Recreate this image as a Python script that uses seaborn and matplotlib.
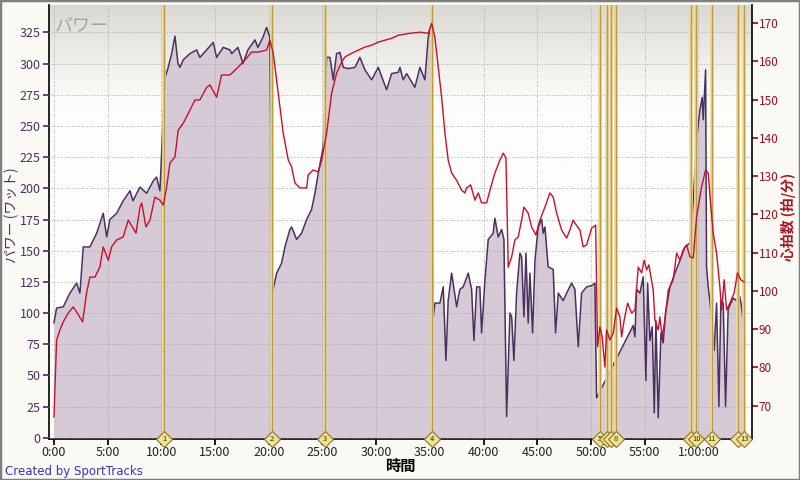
import matplotlib
matplotlib.use("Agg")
import matplotlib.pyplot as plt
import matplotlib.transforms as mtransforms
import numpy as np
import seaborn as sns
from matplotlib.ticker import FuncFormatter

# ─── data ─────────────────────────────────────────────────────────────────────
power_min = [0.00, 0.25, 0.87, 1.49, 2.11, 2.42, 2.73, 3.35, 3.98, 4.59, 4.91, 5.21, 5.84,
             6.45, 7.08, 7.36, 8.01, 8.63, 9.25, 9.56, 9.87, 10.34, 10.61, 10.96, 11.27,
             11.55, 11.73, 12.04, 12.66, 13.29, 13.59, 14.22, 14.83, 15.15, 15.76, 16.39,
             16.55, 17.13, 17.60, 18.06, 18.72, 18.99, 19.46, 19.80, 20.11, 20.33, 20.74,
             21.20, 21.51, 21.97, 22.13, 22.60, 23.06, 23.53, 23.99, 24.30, 24.61, 25.07,
             25.39, 25.70, 26.01, 26.32, 26.63, 26.94, 27.40, 28.03, 28.49, 28.96, 29.58,
             30.20, 30.98, 31.44, 32.06, 32.22, 32.52, 32.84, 33.61, 34.08, 34.54, 34.85,
             35.17, 35.32, 35.47, 35.94, 36.25, 36.50, 36.71, 37.03, 37.50, 37.80, 38.11,
             38.58, 38.89, 39.11, 39.36, 39.66, 39.82, 40.13, 40.44, 40.90, 41.06, 41.37,
             41.69, 41.90, 42.15, 42.46, 42.62, 42.83, 43.08, 43.39, 43.55, 43.76, 43.95,
             44.16, 44.32, 44.57, 44.79, 45.09, 45.41, 45.56, 45.72, 46.02, 46.49, 46.71,
             46.96, 47.42, 47.74, 48.20, 48.51, 48.82, 49.13, 49.60, 50.07, 50.37, 50.53,
             53.94, 54.10, 54.25, 54.56, 54.87, 55.12, 55.28, 55.49, 55.71, 55.90, 56.05,
             56.27, 56.52, 56.73, 56.95, 57.36, 57.82, 58.29, 58.75, 59.22, 59.53, 59.84,
             60.15, 60.36, 60.46, 60.68, 60.77, 60.92, 61.08, 61.48, 61.70, 61.92, 62.10,
             62.32, 62.54, 62.78, 63.25, 63.56, 63.87, 64.03, 64.18, 64.34]
power_w = [92, 104, 105, 116, 124, 116, 153, 153, 164, 180, 161, 175, 180,
           190, 198, 190, 201, 196, 206, 209, 198, 289, 296, 308, 322,
           300, 297, 303, 308, 311, 305, 311, 317, 305, 313, 311,
           308, 313, 300, 311, 319, 313, 321, 329, 321, 116, 132,
           140, 153, 167, 169, 159, 164, 175, 183, 196, 212, 233,
           305, 305, 287, 308, 309, 297, 296, 297, 305, 295, 287,
           297, 279, 292, 293, 297, 287, 292, 281, 297, 287, 321,
           332, 97, 108, 108, 121, 62, 110, 132, 105, 119, 121,
           132, 119, 78, 121, 121, 84, 126, 159, 164, 176, 161,
           167, 159, 17, 100, 97, 62, 116, 148, 145, 97, 148,
           92, 132, 84, 142, 169, 175, 164, 169, 137, 135, 84,
           116, 110, 116, 124, 119, 73, 116, 121, 122, 124, 32,
           90, 81, 119, 116, 129, 46, 124, 78, 89, 20, 94,
           16, 84, 76, 100, 121, 132, 142, 153, 156, 190, 239,
           263, 273, 255, 295, 137, 121, 110, 70, 108, 25, 110,
           108, 25, 103, 112, 110, 113, 105, 94, 73]

hr_min = [0.00, 0.25, 0.56, 0.87, 1.33, 1.80, 2.11, 2.67, 3.04, 3.35, 3.82, 4.28, 4.59,
          5.06, 5.37, 5.84, 6.45, 6.92, 7.64, 8.01, 8.17, 8.57, 8.94, 9.40, 9.87, 10.18,
          10.49, 10.80, 11.27, 11.57, 12.04, 12.66, 13.13, 13.59, 14.22, 14.53, 15.15,
          15.61, 16.39, 17.16, 17.78, 18.41, 19.02, 19.80, 20.11, 20.42, 20.88, 21.35,
          21.82, 22.13, 22.44, 22.91, 23.53, 23.68, 24.14, 24.61, 24.93, 25.39, 25.86,
          26.32, 26.79, 27.09, 27.72, 28.33, 28.96, 29.58, 30.20, 30.82, 31.44, 32.06,
          33.15, 34.08, 34.85, 35.17, 35.47, 35.78, 36.10, 36.41, 36.71, 37.03, 37.50,
          37.96, 38.27, 38.43, 38.80, 39.20, 39.51, 39.82, 40.29, 40.60, 41.06, 41.53,
          41.84, 42.09, 42.30, 42.62, 42.92, 43.23, 43.55, 43.76, 44.16, 44.48, 44.88,
          45.25, 45.72, 46.18, 46.49, 46.81, 47.27, 47.74, 48.04, 48.35, 48.51, 48.98,
          49.28, 49.60, 50.07, 50.44, 50.62, 50.84, 51.05, 51.30, 51.46, 51.77, 52.08,
          52.39, 52.70, 52.86, 53.10, 53.42, 53.79, 54.10, 54.41, 54.72, 54.96, 55.19,
          55.40, 55.80, 55.96, 56.27, 56.42, 56.64, 56.89, 57.20, 57.67, 57.98, 58.29,
          58.59, 58.91, 59.22, 59.53, 59.84, 60.30, 60.68, 60.92, 61.17, 61.39, 61.70,
          62.01, 62.17, 62.41, 62.63, 62.94, 63.34, 63.65, 63.96, 64.27]
hr_bpm = [67, 87.2, 89.8, 91.9, 94.2, 95.8, 94.5, 91.9, 99.5, 103.6, 103.6, 106.3, 111.5,
          108, 111.5, 113.3, 114.1, 118.5, 115.1, 121.9, 123, 116.7, 118.5, 124.5, 123.7, 122.4,
          127.1, 133.4, 135, 142, 143.8, 147.2, 149.9, 149.9, 153.2, 153.8, 150.6,
          156.4, 156.4, 158.5, 160.3, 162.4, 162.4, 162.9, 165.5, 162.1, 151.7, 141.2,
          134.2, 132.4, 128.2, 126.9, 126.9, 130.3, 131.6, 131.1, 134.2, 141.2, 151.7,
          156.9, 159.8, 161.1, 162.1, 162.9, 163.7, 164.2, 165, 165.5, 166, 166.8,
          167.3, 167.6, 167.3, 169.9, 166.3, 158.5, 150.6, 141.2, 134.2, 130.8, 128.9,
          126.3, 125.6, 126.9, 127.7, 123.7, 125.6, 123, 123, 126.3, 130.8, 134.2,
          136, 134.7, 106.2, 108.9, 113.3, 114.1, 118.5, 121.9, 120.3, 116.7, 114.6,
          118.5, 121.9, 125.6, 124.5, 120.3, 115.9, 113.8, 115.9, 118.5, 117.7, 115.9,
          111.5, 112, 116.4, 117.2, 85.4, 90.6, 88, 80.1, 89.8, 87.2, 89,
          95.5, 93.2, 88, 92.4, 96.8, 94.2, 95, 106.2, 104.7, 108, 105.5,
          106.8, 100.2, 92.4, 89.8, 93.2, 88, 92.4, 100.2, 102.9, 109.9, 108,
          110.7, 112, 108.9, 108.6, 119.3, 127.1, 131.6, 130.8, 121.9, 115.1, 109.9,
          101, 95, 102.9, 95, 96.8, 99.5, 104.7, 102.9, 102.3]

lap_min = [10.27, 20.27, 25.23, 35.23, 50.84, 51.52, 51.86, 52.30,
           59.28, 59.81, 61.24, 63.72, 64.27]
lap_labels = ["1", "2", "3", "4", "5", "6", "7", "8", "9", "10", "11", "12", "13"]
# labels hidden under the next diamond in the original
lap_hidden = {"6", "7", "9", "12"}

time_ticks = list(range(0, 61, 5))
power_ticks = list(range(0, 350, 25))
hr_ticks = list(range(70, 180, 10))

# ─── style ────────────────────────────────────────────────────────────────────
sns.set_theme(style="white")
plt.rcParams["font.family"] = ["Liberation Sans Narrow", "Noto Sans CJK JP", "DejaVu Sans"]

PURPLE = "#4b3160"
FILL = "#d5cad5"
RED = "#c8102e"
GOLD = "#c09a3e"
BG = "#faf9f4"


def fmt_time(v, _pos):
    total = int(round(v * 60))
    h, rem = divmod(total, 3600)
    m, s = divmod(rem, 60)
    return f"{h}:{m:02d}:{s:02d}" if h else f"{m}:{s:02d}"


fig = plt.figure(figsize=(8, 4.8), dpi=100, facecolor=BG)
ax = fig.add_axes([0.06125, 0.0854, 0.87875, 0.9042])
ax.set_facecolor("white")

# gradient at the top of the plot area
grad = np.linspace(0, 1, 256).reshape(-1, 1)
grad = np.clip((grad - 0.76) / 0.24, 0, 1) ** 1.2
cmap = matplotlib.colors.LinearSegmentedColormap.from_list("bg", ["#fdfdfb", "#dad8d2"])
ax.imshow(grad, cmap=cmap, aspect="auto", extent=[0, 1, 0, 1], origin="lower",
          transform=ax.transAxes, zorder=0)

ax.set_xlim(-0.46, 65.0)
ax.set_ylim(-1, 347)

ax.fill_between(power_min, 0, power_w, color=FILL, lw=0, zorder=1)
sns.lineplot(x=power_min, y=power_w, ax=ax, color=PURPLE, lw=1.1, zorder=3)

ax.set_xticks(time_ticks)
ax.xaxis.set_major_formatter(FuncFormatter(fmt_time))
ax.set_yticks(power_ticks)
ax.grid(True, color="#9a9a9a", linestyle=(0, (1, 2)), lw=0.6, zorder=2)
ax.set_axisbelow(False)

for t in lap_min:
    ax.axvline(t, color="#ead9a2", lw=2.6, zorder=4)
    ax.axvline(t, color=GOLD, lw=1.0, zorder=4)

ax.tick_params(axis="y", colors=PURPLE, labelsize=9, length=4, direction="out", pad=2, left=True)
ax.tick_params(axis="x", colors="black", labelsize=9, length=4, direction="out", pad=1, bottom=True)
for lab in ax.get_xticklabels():
    lab.set_color("#222222")
for side in ["top", "right"]:
    ax.spines[side].set_visible(False)
for side in ["left", "bottom"]:
    ax.spines[side].set_color("black")
    ax.spines[side].set_linewidth(1.2)

# heart-rate axis
ax2 = ax.twinx()
ax2.set_ylim(61.3, 174.7)
sns.lineplot(x=hr_min, y=hr_bpm, ax=ax2, color=RED, lw=1.0, zorder=5)
ax2.set_yticks(hr_ticks)
ax2.tick_params(axis="y", colors="#9e1020", labelsize=8.5, length=4, direction="out", pad=1, right=True)
ax2.grid(False)
for side in ["top", "left", "bottom"]:
    ax2.spines[side].set_visible(False)
ax2.spines["right"].set_color("black")
ax2.spines["right"].set_linewidth(1.2)
ax2.set_xlabel("")
ax2.set_ylabel("")

# lap markers on the time axis, later ones drawn over earlier ones
trans = mtransforms.blended_transform_factory(ax2.transData, ax2.transAxes)
for i, (t, lab) in enumerate(zip(lap_min, lap_labels)):
    ax2.plot([t], [0], linestyle="none", marker="D", markersize=8,
             markerfacecolor="#f3e28c", markeredgecolor="#8a7430", markeredgewidth=0.8,
             transform=trans, clip_on=False, zorder=10 + 2 * i)
    if lab not in lap_hidden:
        ax2.text(t, 0, lab, transform=trans, ha="center", va="center", fontsize=5.5,
                 color="#333311", clip_on=False, zorder=11 + 2 * i)

# texts
ax.text(0.008, 0.975, "パワー", transform=ax.transAxes, ha="left", va="top",
        fontsize=13, color="#a5a5a5", style="italic", zorder=12)
fig.text(12 / 800, 1 - 215 / 480, "パワー (ワット)", rotation=90, ha="center", va="center",
         fontsize=10, color=PURPLE)
fig.text(789 / 800, 1 - 217 / 480, "心拍数 (拍/分)", rotation=90, ha="center", va="center",
         fontsize=10, color="#b01020", fontweight="bold")
fig.text(0.5, 1 - 466 / 480, "時間", ha="center", va="center", fontsize=11,
         color="black", fontweight="bold")
fig.text(5 / 800, 1 - 471 / 480, "Created by SportTracks", ha="left", va="center",
         fontsize=8.5, color="#3434c8", family=["DejaVu Sans"])

fig.patches.append(plt.Rectangle((0, 0), 1, 1, transform=fig.transFigure, fill=False,
                                 edgecolor="#7f7f7f", lw=2.5, zorder=20))

fig.savefig("out.png", dpi=100, facecolor=BG)
